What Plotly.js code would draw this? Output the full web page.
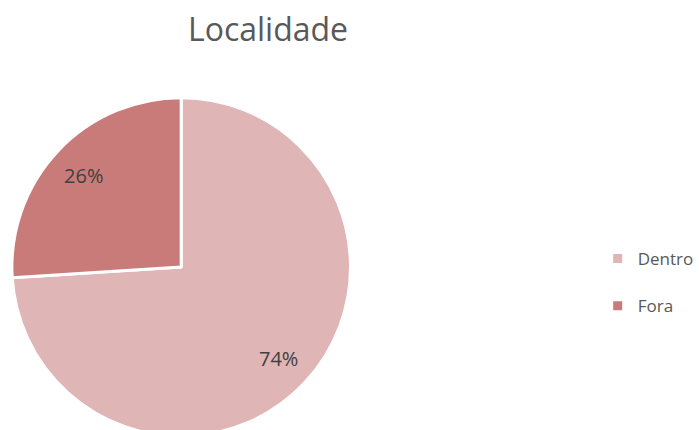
<!DOCTYPE html>
<html><head><meta charset="utf-8">
<script src="https://cdn.plot.ly/plotly-3.0.1.min.js"></script>
<style>html,body{margin:0;padding:0;overflow:hidden;background:#fff}</style>
</head><body>
<div id="chart"></div>
<script>
const labels = ["Dentro", "Fora"];
const values = [74, 26];
const colors = ["#DFB5B5", "#C97B7A"];

const dom = {x: [12/699, 353/699], y: [1 - 437.5/440, 1 - 96.5/440]};

const pieTrace = {
  type: "pie",
  labels: labels.map(l => l + "<br> "),
  values: values,
  sort: false,
  direction: "clockwise",
  rotation: 0,
  marker: {colors: colors, line: {color: "#ffffff", width: 3}},
  textinfo: "none",
  domain: dom,
  hoverinfo: "label+percent"
};

const textTrace = {
  type: "pie",
  labels: labels.map(l => l + "<br> "),
  values: values,
  sort: false,
  direction: "clockwise",
  rotation: 0,
  hole: 0.58,
  showlegend: false,
  marker: {colors: ["rgba(0,0,0,0)", "rgba(0,0,0,0)"], line: {width: 0}},
  texttemplate: "%{percent:.0%}",
  textposition: "inside",
  insidetextorientation: "horizontal",
  textfont: {family: "Open Sans, sans-serif", size: 20, color: "#404040"},
  domain: dom,
  hoverinfo: "skip"
};

const layout = {
  width: 699, height: 440,
  margin: {l: 0, r: 0, t: 0, b: 0},
  paper_bgcolor: "#ffffff",
  font: {family: "Open Sans, sans-serif", color: "#595959"},
  title: {text: "Localidade", x: 268/699, xanchor: "center", y: 1 - 30/440, yanchor: "middle",
          font: {size: 32, color: "#595959", family: "Open Sans, sans-serif"}},
  showlegend: true,
  legend: {x: 602/699, xanchor: "left", y: 1 - 241/440, yanchor: "top", valign: "top",
           font: {size: 17, color: "#595959"}, itemwidth: 30, traceorder: "normal"}
};

Plotly.newPlot("chart", [pieTrace, textTrace], layout, {displayModeBar: false, staticPlot: true});
</script>
</body></html>
